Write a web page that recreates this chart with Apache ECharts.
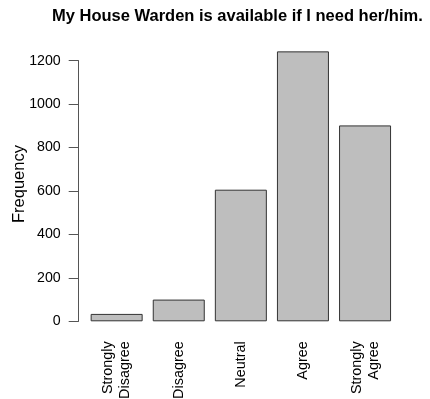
<!DOCTYPE html>
<html>
<head>
<meta charset="utf-8">
<script src="https://cdn.jsdelivr.net/npm/echarts@6/dist/echarts.min.js"></script>
<style>html,body{margin:0;padding:0;background:#fff;}#c{width:430px;height:399px;}</style>
</head>
<body>
<div id="c"></div>
<script>
var categories = ["Strongly\nDisagree", "Disagree", "Neutral", "Agree", "Strongly\nAgree"];
var frequency = [34, 100, 606, 1243, 902];
var yTicks = [0, 200, 400, 600, 800, 1000, 1200];
var titleText = "My House Warden is available if I need her/him.";

var chart = echarts.init(document.getElementById('c'), null, {renderer: 'canvas'});
var font = 'Liberation Sans, Arial, Helvetica, sans-serif';
chart.setOption({
  animation: false,
  backgroundColor: '#ffffff',
  title: {
    text: titleText,
    left: 52,
    top: 7.5,
    padding: 0,
    textStyle: {fontFamily: font, fontSize: 16.5, fontWeight: 'bold', color: '#000', width: 380, overflow: 'none'}
  },
  grid: {left: 85.6, right: 33.9, top: 60.7, bottom: 77.7, containLabel: false, outerBoundsMode: 'none'},
  xAxis: {
    type: 'category',
    data: categories,
    axisLine: {show: false},
    axisTick: {show: false},
    axisLabel: {rotate: 90, margin: 20, interval: 0, fontFamily: font, fontSize: 14.4, lineHeight: 17, color: '#000'}
  },
  yAxis: {
    type: 'value',
    min: yTicks[0],
    max: yTicks[yTicks.length - 1],
    interval: yTicks[1] - yTicks[0],
    offset: 6.9,
    name: 'Frequency',
    nameLocation: 'middle',
    nameGap: 51,
    nameMoveOverlap: false,
    nameTextStyle: {fontFamily: font, fontSize: 16.5, color: '#000', padding: [0, 0, 0, 14]},
    splitLine: {show: false},
    axisLine: {show: true, lineStyle: {color: '#555', width: 1}},
    axisTick: {show: true, length: 10, lineStyle: {color: '#555', width: 1}},
    axisLabel: {margin: 18, fontFamily: font, fontSize: 14.2, color: '#000', formatter: function (v) { return String(v); }}
  },
  series: [{
    type: 'bar',
    data: frequency,
    barWidth: 52,
    clip: false,
    itemStyle: {color: '#bebebe', borderColor: '#333', borderWidth: 1}
  }]
});
</script>
</body>
</html>
